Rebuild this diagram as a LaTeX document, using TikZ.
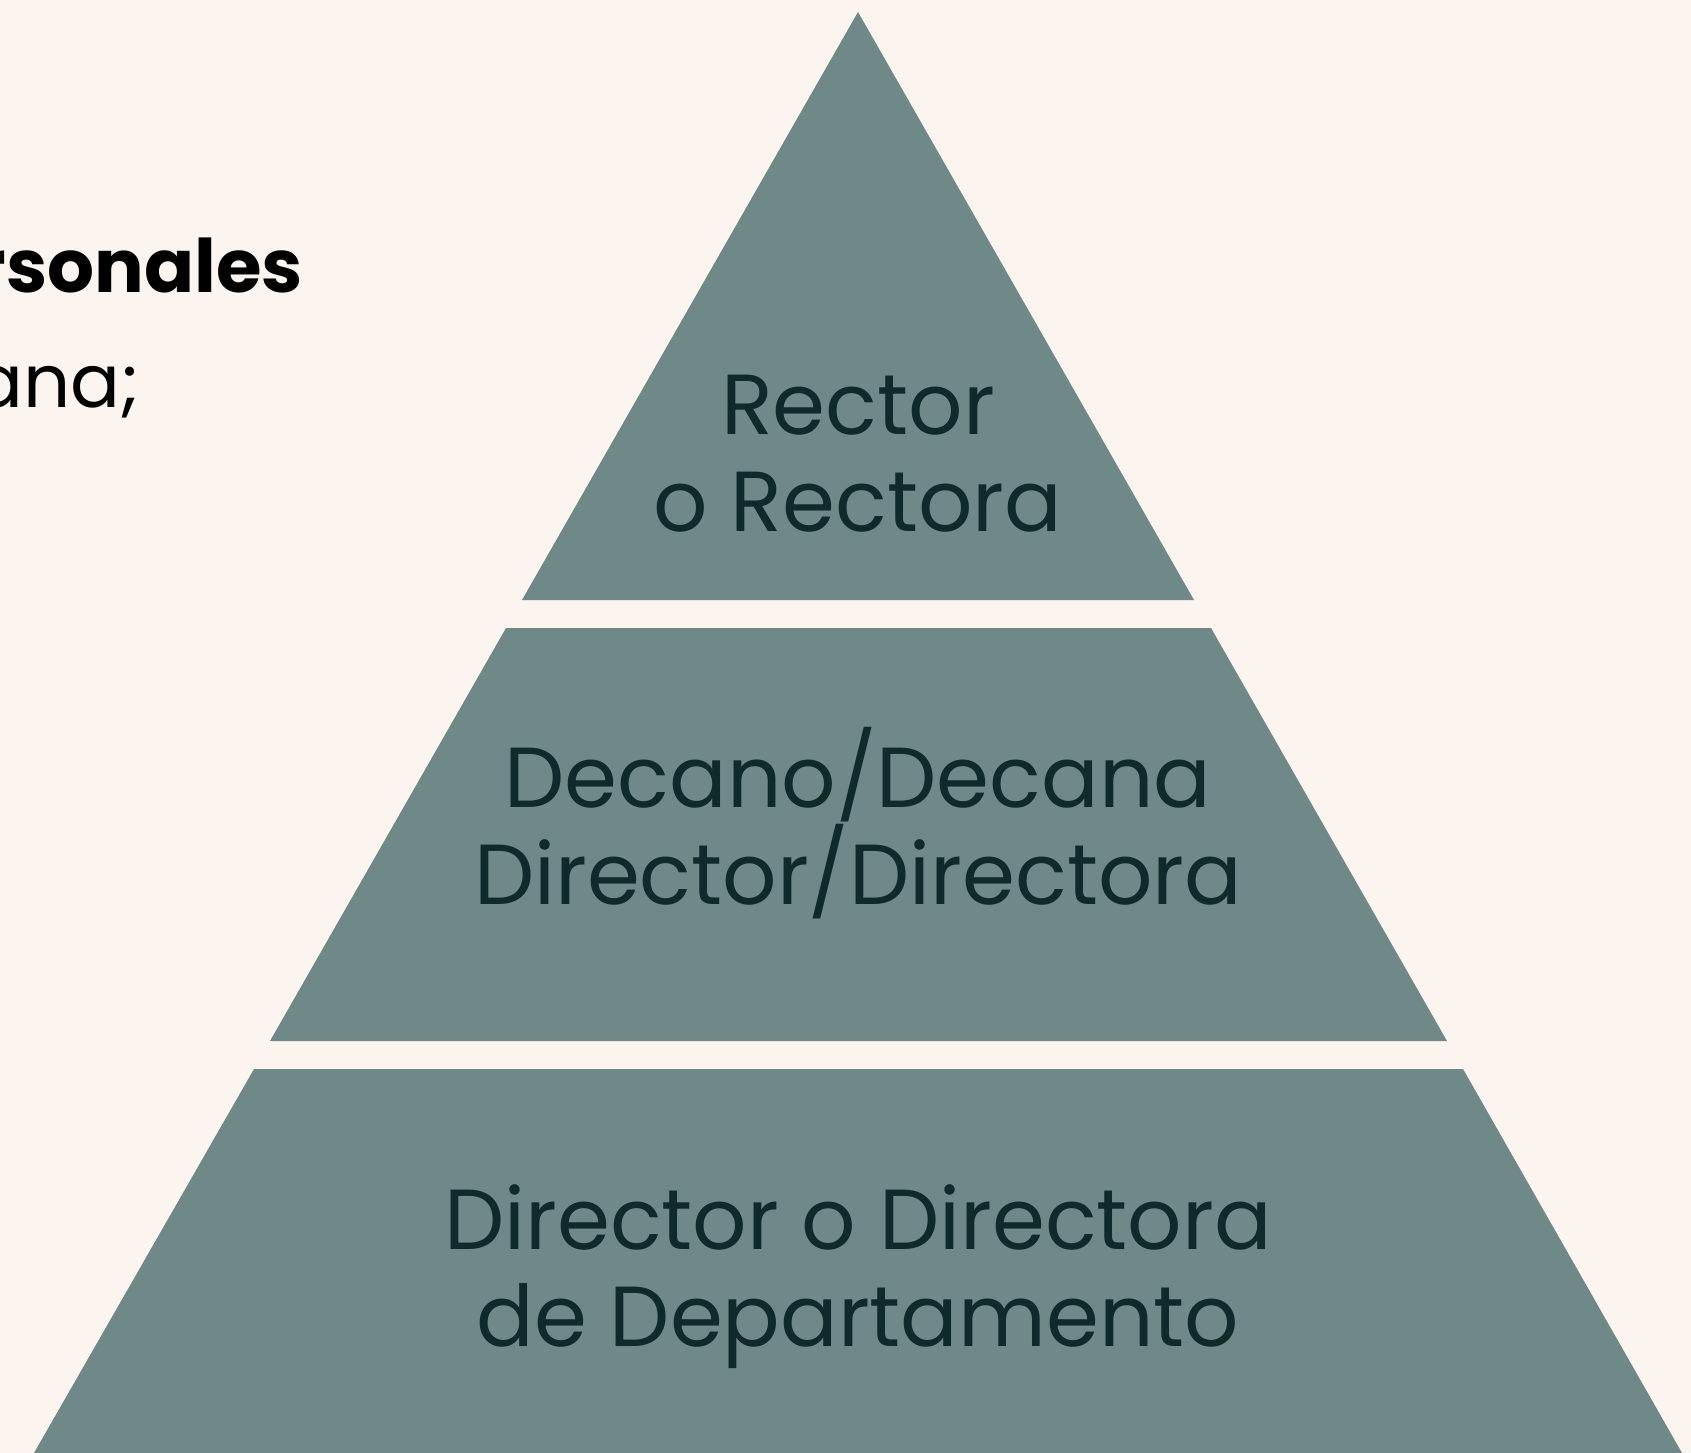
\documentclass[tikz,border=0pt]{standalone}
\usepackage{fontspec}
\setmainfont{Poppins}
\definecolor{slate}{HTML}{6E8988}
\definecolor{paper}{HTML}{FCF4EE}
\definecolor{ink}{HTML}{0F2A2B}
\begin{document}
\begin{tikzpicture}[x=0.02cm, y=-0.02cm,
                    tier/.style={fill=slate},
                    rank/.style={text=ink, align=center, anchor=base, inner sep=0pt,
                                 font=\fontsize{48.5}{55}\selectfont},
                    side/.style={anchor=base east, inner sep=0pt, text=black,
                                 font=\fontsize{42}{46}\selectfont}
                ]
                \fill[paper] (0,0) rectangle (1691,1453);
                \useasboundingbox (0,0) rectangle (1691,1453);
                \clip (0,0) rectangle (1691,1453);
                % pyramid tiers
                \fill[tier] (858,12) -- (1194,600) -- (522,600) -- cycle;
                \fill[tier] (506,628) -- (1211,628) -- (1447,1041) -- (270,1041) -- cycle;
                \fill[tier] (254,1069) -- (1463,1069) -- (1686,1460) -- (30,1460) -- cycle;
                % tier labels (base = last line)
                \node[rank] (rector) at (858,531) {Rector\\o Rectora};
                \node[rank] (decano) at (858,904) {Decano/Decana\\Director/Directora};
                \node[rank] (depto) at (858,1346) {Director o Directora\\de Departamento};
                % cut-off text on the left
                \node[side, font=\fontsize{42}{46}\selectfont\bfseries] (heading) at (303,293) {rsonales};
                \node[side] (line) at (140,407) {ana;};
\end{tikzpicture}
\end{document}
